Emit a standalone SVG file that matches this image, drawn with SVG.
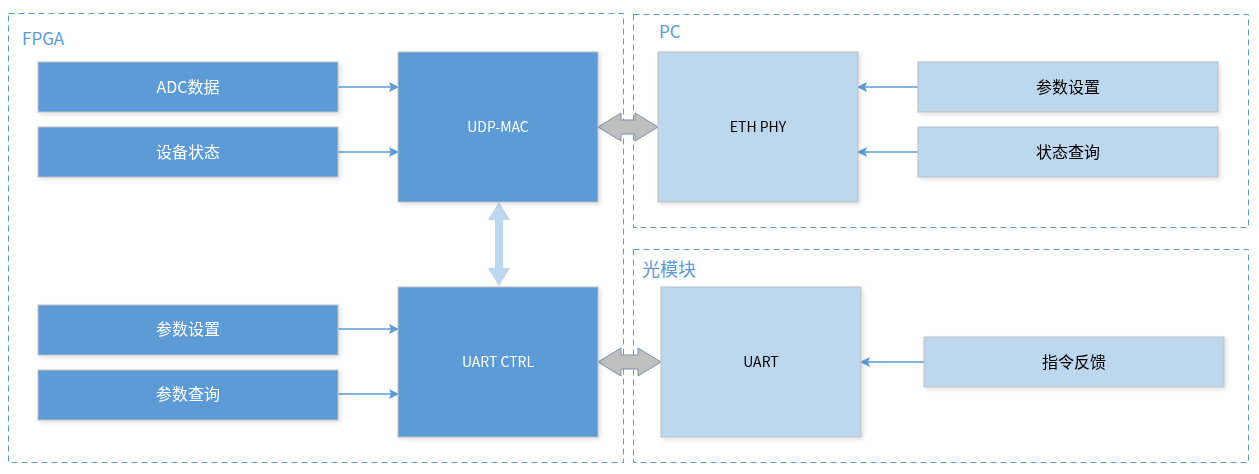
<svg xmlns="http://www.w3.org/2000/svg" width="1259" height="474" viewBox="0 0 1259 474">
<style>
.frame{fill:none;stroke:#5B9BD5;stroke-width:1;stroke-dasharray:6 4}
.title{fill:#5B9BD5;font-family:"Noto Sans CJK SC","Noto Sans",sans-serif;font-size:17px}
.dk{fill:#5B9BD5;stroke:#BFBFBF;stroke-width:1}
.lt{fill:#BDD7EE;stroke:#BFBFBF;stroke-width:1}
.tw{fill:#FFFFFF;font-family:"Noto Sans CJK SC","Noto Sans",sans-serif;font-size:16px;text-anchor:middle}
.tb{fill:#000000;font-family:"Noto Sans CJK SC","Noto Sans",sans-serif;font-size:16px;text-anchor:middle}
.sm{font-size:14px}
.ln{stroke:#5B9BD5;stroke-width:1.5;fill:none}
.dbl{fill:#BFBFBF;stroke:#7F8FA6;stroke-width:1}
</style>
<defs>
<marker id="ah" markerWidth="10" markerHeight="10" refX="9" refY="5" orient="auto" markerUnits="userSpaceOnUse">
<path d="M0,0 L10,5 L0,10 L2,5 Z" fill="#5B9BD5"/>
</marker>
<filter id="sh" x="-10%" y="-10%" width="125%" height="125%">
<feDropShadow dx="2" dy="2" stdDeviation="2" flood-color="#000" flood-opacity="0.12"/>
</filter>
</defs>
<g id="frames">
<rect class="frame" x="8.5" y="13.5" width="615" height="449"/>
<rect class="frame" x="633.5" y="14.5" width="615" height="213"/>
<rect class="frame" x="633.5" y="249.5" width="615" height="213"/>
<text class="title" x="22" y="45">FPGA</text>
<text class="title" x="659" y="38">PC</text>
<text class="title" x="642" y="276" style="font-size:18px">光模块</text>
</g>
<g id="connectors">
<line class="ln" x1="338" y1="87" x2="398" y2="87" marker-end="url(#ah)"/>
<line class="ln" x1="338" y1="152" x2="398" y2="152" marker-end="url(#ah)"/>
<line class="ln" x1="338" y1="329" x2="398" y2="329" marker-end="url(#ah)"/>
<line class="ln" x1="338" y1="394" x2="398" y2="394" marker-end="url(#ah)"/>
<line class="ln" x1="918" y1="87" x2="858" y2="87" marker-end="url(#ah)"/>
<line class="ln" x1="918" y1="152" x2="858" y2="152" marker-end="url(#ah)"/>
<line class="ln" x1="924" y1="362" x2="861" y2="362" marker-end="url(#ah)"/>
<path class="dbl" d="M598,127 L621,113 L621,120 L635,120 L635,113 L658,127 L635,141 L635,134 L621,134 L621,141 Z"/>
<path class="dbl" d="M598,362 L621,348 L621,355 L638,355 L638,348 L661,362 L638,376 L638,369 L621,369 L621,376 Z"/>
<path fill="#BDD7EE" d="M499,202 L510,220 L503,220 L503,268 L510,268 L499,286 L488,268 L495,268 L495,220 L488,220 Z"/>
</g>
<g id="n-adc" filter="url(#sh)"><rect class="dk" x="38" y="62" width="300" height="50"/><text class="tw" x="188" y="93">ADC数据</text></g>
<g id="n-devstate" filter="url(#sh)"><rect class="dk" x="38" y="127" width="300" height="50"/><text class="tw" x="188" y="158">设备状态</text></g>
<g id="n-udpmac" filter="url(#sh)"><rect class="dk" x="398" y="52" width="200" height="150"/><text class="tw sm" x="498" y="132">UDP-MAC</text></g>
<g id="n-paramset-l" filter="url(#sh)"><rect class="dk" x="38" y="305" width="300" height="50"/><text class="tw" x="188" y="335">参数设置</text></g>
<g id="n-paramq-l" filter="url(#sh)"><rect class="dk" x="38" y="370" width="300" height="50"/><text class="tw" x="188" y="400">参数查询</text></g>
<g id="n-uartctrl" filter="url(#sh)"><rect class="dk" x="398" y="287" width="200" height="150"/><text class="tw sm" x="498" y="367">UART CTRL</text></g>
<g id="n-ethphy" filter="url(#sh)"><rect class="lt" x="658" y="52" width="200" height="150"/><text class="tb sm" x="758" y="132">ETH PHY</text></g>
<g id="n-paramset-r" filter="url(#sh)"><rect class="lt" x="918" y="62" width="300" height="50"/><text class="tb" x="1068" y="93">参数设置</text></g>
<g id="n-stateq" filter="url(#sh)"><rect class="lt" x="918" y="127" width="300" height="50"/><text class="tb" x="1068" y="158">状态查询</text></g>
<g id="n-uart" filter="url(#sh)"><rect class="lt" x="661" y="287" width="200" height="150"/><text class="tb sm" x="761" y="367">UART</text></g>
<g id="n-cmdfb" filter="url(#sh)"><rect class="lt" x="924" y="337" width="300" height="50"/><text class="tb" x="1074" y="368">指令反馈</text></g>
</svg>
